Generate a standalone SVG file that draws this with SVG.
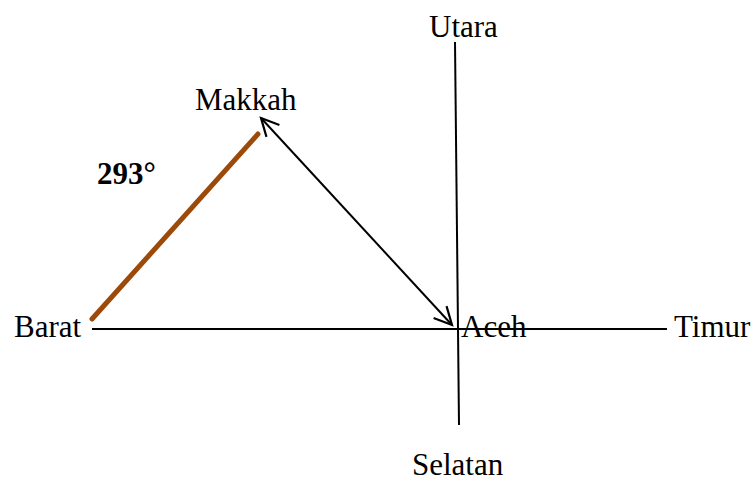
<svg xmlns="http://www.w3.org/2000/svg" width="756" height="481" viewBox="0 0 756 481">
<style>
text{font-family:"Liberation Serif","Times New Roman",serif;font-size:31px;fill:#000}
.b{font-weight:bold}
.ln{stroke:#000;stroke-width:2;fill:none}
</style>
<defs>
<marker id="ah" markerWidth="22" markerHeight="22" refX="17" refY="9" orient="auto-start-reverse" markerUnits="userSpaceOnUse" viewBox="0 0 20 18">
<path d="M1,1 L17,9 L1,17" fill="none" stroke="#000" stroke-width="2"/>
</marker>
</defs>
<rect width="756" height="481" fill="#fff"/>
<g id="connectors">
<line class="ln" x1="92" y1="329" x2="667" y2="329"/>
<line class="ln" x1="455" y1="42" x2="459" y2="425"/>
<line x1="92" y1="319" x2="258" y2="134" stroke="#9c4a0a" stroke-width="5" stroke-linecap="round"/>
<line class="ln" x1="261" y1="118" x2="452" y2="325" marker-start="url(#ah)" marker-end="url(#ah)"/>
</g>
<g id="utara"><text x="429" y="37">Utara</text></g>
<g id="makkah"><text x="195" y="110">Makkah</text></g>
<g id="angle"><text class="b" x="97" y="184">293°</text></g>
<g id="barat"><text x="14" y="337">Barat</text></g>
<g id="aceh"><text x="461" y="337">Aceh</text></g>
<g id="timur"><text x="674" y="337">Timur</text></g>
<g id="selatan"><text x="412" y="475">Selatan</text></g>
</svg>
